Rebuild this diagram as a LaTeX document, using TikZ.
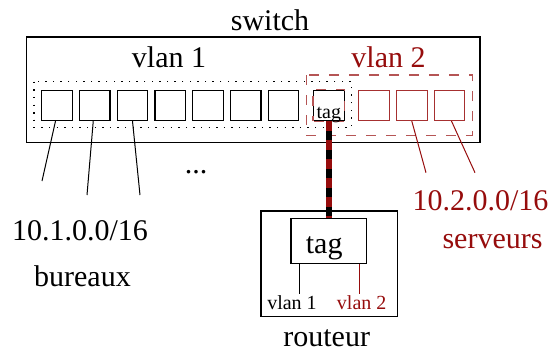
\documentclass[tikz,border=0pt]{standalone}
\usepackage{fontspec}
\setmainfont{Liberation Serif}
\definecolor{vred}{RGB}{150,12,12}
\begin{document}
\begin{tikzpicture}[x=1pt,y=-1pt,line width=1.1pt,
  big/.style={font=\fontsize{30}{36}\selectfont,inner sep=0,anchor=base},
  small/.style={font=\fontsize{20}{24}\selectfont,inner sep=0,anchor=base},
  port/.style={draw,minimum width=30.5pt,minimum height=30.5pt,inner sep=0},
  redport/.style={port,draw=vred!85},
  vdash/.style={draw=vred!70,dash pattern=on 10pt off 10pt},
  vdot/.style={dash pattern=on 1.4pt off 6.2pt},
  wire/.style={line width=1pt},
  redwire/.style={wire,vred}]
\useasboundingbox (0,0) rectangle (552,354);

% switch
\node[big] (swlabel) at (270,30) {switch};
\draw (26.7,37) rectangle (480,142.7);
\node[big] (v1label) at (169,67) {vlan 1};
\node[big,text=vred] (v2label) at (388.5,67) {vlan 2};

% vlan groups
\draw[vdot] (34,81.7) rectangle (351.7,127.5);
\draw[vdash] (306.7,75) rectangle (472.3,135.3);

% ports of vlan 1
\foreach \i in {1,...,7}
  \node[port] (p\i) at ({57+37.75*(\i-1)},105.3) {};
% trunk port
\node[port] (p8) at (328.8,105.3) {};
\draw[vdash,dash phase=5pt] (p8.south west) rectangle (p8.north east);
% ports of vlan 2
\node[redport] (p9) at (374,105.3) {};
\node[redport] (p10) at (411.8,105.3) {};
\node[redport] (p11) at (449.5,105.3) {};

% router
\draw (261,211) rectangle (397.3,316.7);
\node[draw,minimum width=75.7pt,minimum height=45pt,inner sep=0] (rtag) at (328.8,240.8) {};
\node[big] (rtaglabel) at (324.2,253) {tag};
\coordinate (r1) at (299,294);
\coordinate (r2) at (359,294);
\draw[wire] (rtag.south -| r1) -- (r1);
\draw[redwire] (rtag.south -| r2) -- (r2);
\node[small] (rv1) at (292,309) {vlan 1};
\node[small,text=vred] (rv2) at (361.7,309) {vlan 2};
\node[big] (rlabel) at (326.7,346.7) {routeur};

% tagged link
\draw[line width=5.5pt] (p8.south) -- (rtag.north);
\draw[line width=5.5pt,vred,dash pattern=on 10pt off 9pt] (p8.south) -- (rtag.north);
\node[small] (p8label) at (328.8,118.3) {tag};

% host links
\coordinate (e1) at (42,181);
\coordinate (e2) at (87,195);
\coordinate (e3) at (140,195);
\coordinate (e10) at (426,172.7);
\coordinate (e11) at (475,172.7);
\draw[wire] ([xshift=-1.5pt]p1.south) -- (e1);
\draw[wire] ([xshift=-1.5pt]p2.south) -- (e2);
\draw[wire] (p3.south) -- (e3);
\draw[redwire] (p10.south) -- (e10);
\draw[redwire] ([xshift=2pt]p11.south) -- (e11);
\node[big] (dots) at (196,173) {...};

% networks
\node[big] (net1) at (80,240.7) {10.1.0.0/16};
\node[big] (name1) at (82.5,286.7) {bureaux};
\node[big,text=vred] (net2) at (480.5,210.7) {10.2.0.0/16};
\node[big,text=vred] (name2) at (492.5,248.3) {serveurs};
\end{tikzpicture}
\end{document}
